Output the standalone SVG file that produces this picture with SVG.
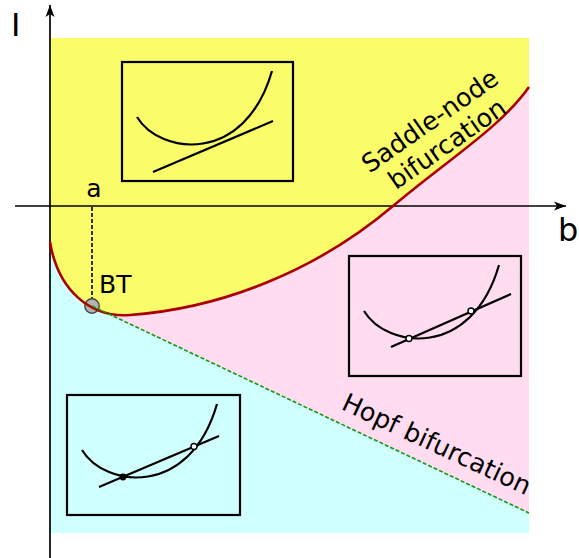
<svg xmlns="http://www.w3.org/2000/svg" width="579" height="558" viewBox="0 0 579 558">
<style>
  text { font-family: "DejaVu Sans", "Liberation Sans", sans-serif; fill: #000; }
  .lbl { font-size: 25px; }
  .rlbl { font-size: 25.5px; }
  .axlbl { font-size: 32px; }
  .box { fill: none; stroke: #000; stroke-width: 2.2; }
  .crv { fill: none; stroke: #000; stroke-width: 2.2; }
  .open { fill: #fff; stroke: #000; stroke-width: 1.4; }
  .axis { fill: none; stroke: #000; stroke-width: 1.7; }
</style>
<defs>
  <marker id="arr" markerUnits="userSpaceOnUse" markerWidth="16" markerHeight="12" refX="0" refY="0" viewBox="-13 -6 14 12" orient="auto" overflow="visible">
    <path d="M0,0 L-12,-4.5 L-9,0 L-12,4.5 Z" fill="#000"/>
  </marker>
  <path id="para" d="M15,55 C38,93 123,103 150,9"/>
</defs>

<g id="regions">
  <rect id="cyan-region" x="50" y="38" width="479" height="495" fill="#d0ffff"/>
  <path id="pink-region" d="M92,306 L529,513 L529,38 L92,38 Z" fill="#ffdcf0"/>
  <path id="yellow-region" d="M50,38 H529 V87 C500,128 448,159.5 393,206 C315,272 220,308.5 130,315 C90,318 58,290 50,242 Z" fill="#fbfc6a"/>
</g>

<g id="axes">
  <line class="axis" x1="50" y1="558" x2="50" y2="5" marker-end="url(#arr)"/>
  <line class="axis" x1="15" y1="206" x2="566" y2="206" marker-end="url(#arr)"/>
  <text class="axlbl" x="11" y="36">I</text>
  <text class="axlbl" x="558" y="241">b</text>
</g>

<g id="connectors">
  <line id="a-guide" x1="92" y1="207" x2="92" y2="300" stroke="#000" stroke-width="1.6" stroke-dasharray="4,2"/>
  <circle id="BT-point" cx="92" cy="306" r="7.2" fill="#b3b3b3" stroke="#444" stroke-width="1.4"/>
  <path id="saddle-node-curve" d="M50,242 C58,290 90,318 130,315 C220,308.5 315,272 393,206 C448,159.5 500,128 529,87" fill="none" stroke="#aa0000" stroke-width="2.6"/>
  <line id="hopf-line" x1="92" y1="306" x2="529" y2="513" stroke="#119911" stroke-width="1.6" stroke-dasharray="4,2"/>
</g>

<g id="labels">
  <text class="lbl" x="94" y="197" text-anchor="middle">a</text>
  <text class="lbl" x="99" y="293">BT</text>
  <text class="rlbl" text-anchor="middle" transform="translate(435,128) rotate(-35)">Saddle-node</text>
  <text class="rlbl" text-anchor="middle" transform="translate(452,151) rotate(-35)">bifurcation</text>
  <text class="rlbl" text-anchor="middle" transform="translate(433,452) rotate(25)">Hopf bifurcation</text>
</g>

<g id="inset-top" transform="translate(122,62)">
  <rect class="box" x="0" y="0" width="171" height="119"/>
  <use href="#para" class="crv"/>
  <line class="crv" x1="31" y1="110" x2="151" y2="59"/>
</g>

<g id="inset-right" transform="translate(349,256)">
  <rect class="box" x="0" y="0" width="172" height="120"/>
  <use href="#para" class="crv"/>
  <line class="crv" x1="42" y1="91" x2="162" y2="38"/>
  <circle class="open" cx="60" cy="82.5" r="3"/>
  <circle class="open" cx="122" cy="55" r="3"/>
</g>

<g id="inset-bottom" transform="translate(67,395)">
  <rect class="box" x="0" y="0" width="173" height="120"/>
  <use href="#para" class="crv"/>
  <line class="crv" x1="32" y1="92" x2="152" y2="41"/>
  <circle cx="56" cy="82" r="3.4" fill="#000"/>
  <circle class="open" cx="127" cy="51.5" r="3"/>
</g>
</svg>
